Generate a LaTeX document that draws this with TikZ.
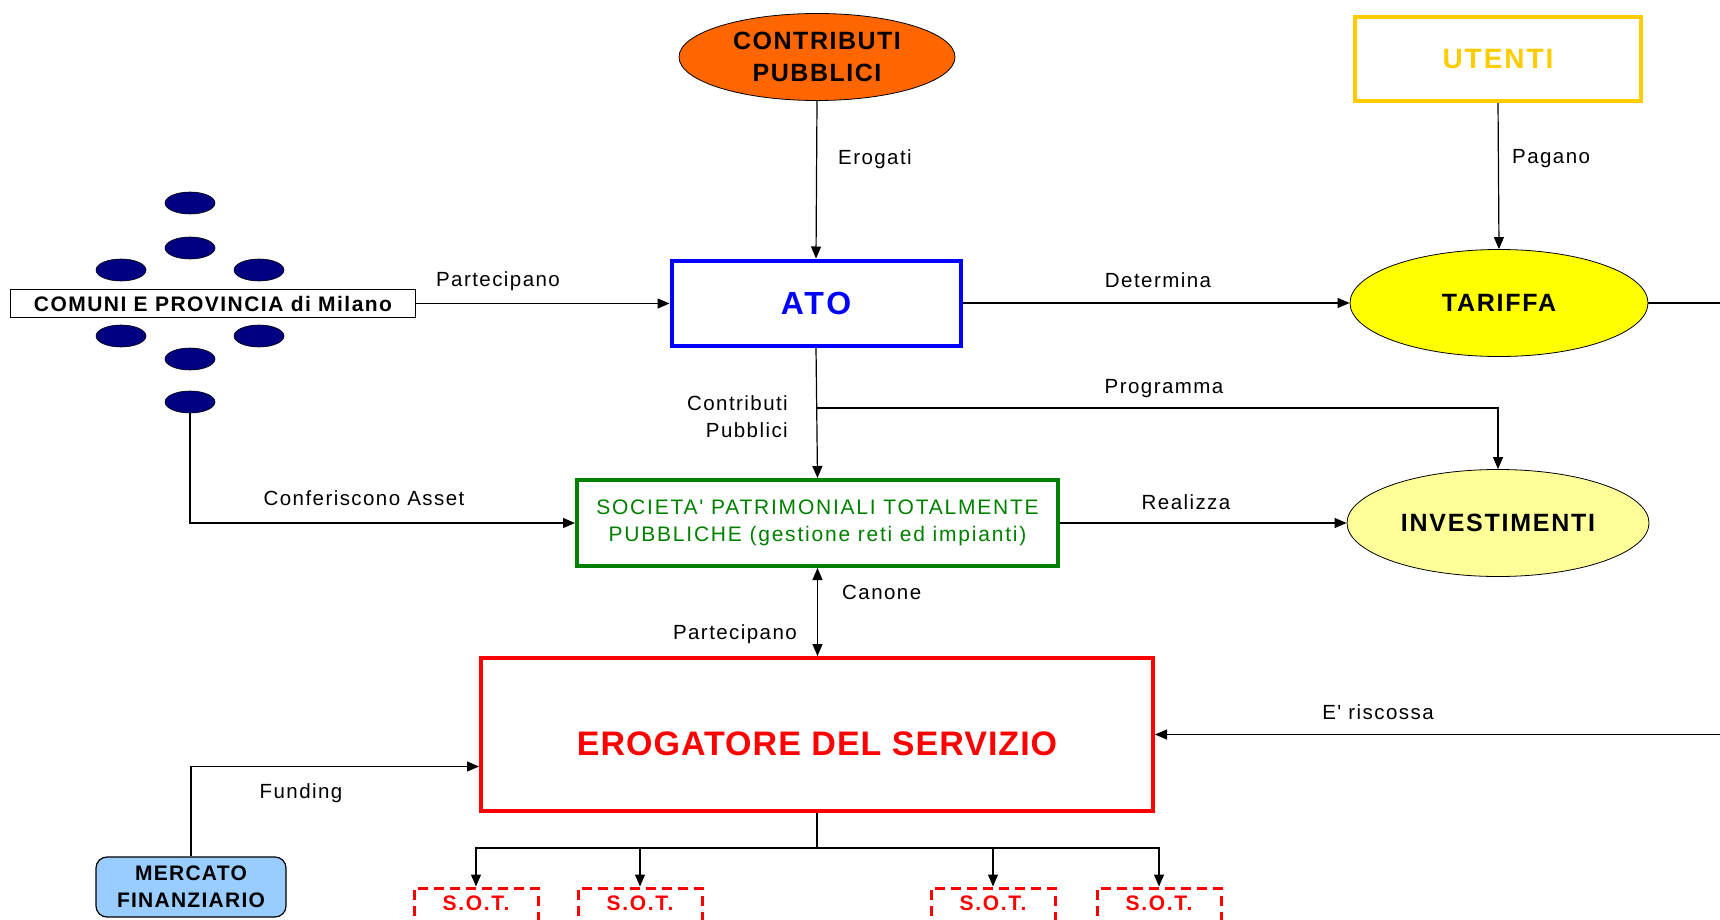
\documentclass[tikz,border=0pt]{standalone}
\usepackage{fontspec}
\setmainfont{Liberation Sans}[Ligatures=TeXOff]
\newfontfamily\lblfont{Liberation Sans}[Ligatures=TeXOff]
\newcommand\lsp[1]{\addfontfeature{LetterSpace=#1}}
\usetikzlibrary{arrows.meta,shapes.geometric}
\definecolor{orangeC}{HTML}{FF6600}
\definecolor{atoblue}{HTML}{0000FF}
\definecolor{goldU}{HTML}{FFCC00}
\definecolor{yelT}{HTML}{FFFF00}
\definecolor{lightyel}{HTML}{FFFF99}
\definecolor{socgreen}{HTML}{008000}
\definecolor{erogred}{HTML}{FF0000}
\definecolor{mercblue}{HTML}{99CCFF}
\definecolor{navyE}{HTML}{000080}
\begin{document}
\begin{tikzpicture}[x=1pt,y=-1pt,
  lbl/.style={font=\lblfont\lsp{7}\fontsize{20.5}{27}\selectfont, inner sep=0pt},
  conn/.style={line width=1.2pt,-{Triangle[length=12pt,width=10pt]}},
  wire/.style={line width=1.2pt},
  dot/.style={ellipse, draw=black, line width=0.6pt, fill=navyE, minimum width=50pt, minimum height=22pt, inner sep=0pt},
  bigbox/.style={rectangle, inner sep=0pt, align=center, line width=4pt},
  oval/.style={ellipse, draw=black, line width=0.8pt, inner sep=0pt, align=center},
  sotbox/.style={rectangle, draw=erogred, line width=3pt, dash pattern=on 10pt off 6pt, minimum width=124pt, minimum height=38pt, inner sep=0pt, text=erogred, font=\lblfont\lsp{8}\bfseries\fontsize{21}{25}\selectfont}
]
\useasboundingbox[fill=white] (0,0) rectangle (1720,920);

% nodes
\node[oval, fill=orangeC, minimum width=276pt, minimum height=87pt,
      font=\lblfont\lsp{6}\bfseries\fontsize{25}{32}\selectfont] (contrib) at (817,57) {CONTRIBUTI\\PUBBLICI};
\node[bigbox, draw=atoblue, text=atoblue, minimum width=289pt, minimum height=85pt,
      font=\lblfont\lsp{9}\bfseries\fontsize{32}{36}\selectfont] (ato) at (816,303) {ATO};
\node[bigbox, draw=goldU, text=goldU, minimum width=286pt, minimum height=84pt,
      font=\lblfont\lsp{7}\bfseries\fontsize{28}{32}\selectfont] (utenti) at (1498,59) {UTENTI};
\node[oval, fill=yelT, minimum width=298pt, minimum height=107pt,
      font=\lblfont\lsp{7}\bfseries\fontsize{25}{30}\selectfont] (tariffa) at (1499,303) {TARIFFA};
\node[rectangle, draw=black, fill=white, line width=1pt, minimum width=405pt, minimum height=28pt, inner sep=0pt,
      font=\lblfont\lsp{7}\bfseries\fontsize{21}{24}\selectfont] (comuni) at (213,303.5) {COMUNI E PROVINCIA di Milano};

\node[dot] (e1) at (190,203) {};
\node[dot] (e2) at (190,248) {};
\node[dot] (e3) at (121,270) {};
\node[dot] (e4) at (259,270) {};
\node[dot] (e5) at (121,336) {};
\node[dot] (e6) at (259,336) {};
\node[dot] (e7) at (190,359) {};
\node[dot] (e8) at (190,402) {};

\node[bigbox, draw=socgreen, text=socgreen, minimum width=481pt, minimum height=86pt,
      font=\lblfont\lsp{8.5}\fontsize{21}{27}\selectfont] (soc) at (817.5,523) {SOCIETA' PATRIMONIALI TOTALMENTE\\PUBBLICHE (gestione reti ed impianti)};
\node[oval, fill=lightyel, minimum width=302pt, minimum height=107pt,
      font=\lblfont\lsp{7}\bfseries\fontsize{25}{30}\selectfont] (inv) at (1498,523) {INVESTIMENTI};
\node[bigbox, draw=erogred, text=erogred, minimum width=672pt, minimum height=153pt,
      font=\lblfont\lsp{3}\bfseries\fontsize{34}{40}\selectfont] (erog) at (817,734.5) {\raisebox{-9pt}[\height][\depth]{EROGATORE DEL SERVIZIO}};
\node[rectangle, rounded corners=11pt, draw=black, fill=mercblue, line width=1.2pt, minimum width=190pt, minimum height=60pt,
      inner sep=0pt, align=center, font=\lblfont\lsp{6}\bfseries\fontsize{21}{27}\selectfont] (merc) at (191,887) {MERCATO\\FINANZIARIO};

\node[sotbox] (s1) at (476,907) {\raisebox{7pt}{S.O.T.}};
\node[sotbox] (s2) at (640,907) {\raisebox{7pt}{S.O.T.}};
\node[sotbox] (s3) at (993,907) {\raisebox{7pt}{S.O.T.}};
\node[sotbox] (s4) at (1159,907) {\raisebox{7pt}{S.O.T.}};

% helper coordinates
\coordinate (tarR) at (1725,303);
\coordinate (riscR) at (1725,734.5);
\coordinate (pj) at (816,408);
\coordinate (tj) at (817,848);

% connectors
\draw[conn] (contrib.south) -- (ato.north);
\draw[conn] (comuni.east) -- (comuni.east -| ato.west);
\draw[conn] (ato.east) -- (tariffa.west);
\draw[conn] (utenti.south) -- (tariffa.north);
\draw[wire] (tariffa.east) -- (tarR);
\draw[conn] (ato.south) -- (soc.north);
\draw[conn] (pj) -| (inv.north);
\draw[conn] (e8.south) |- (soc.west);
\draw[conn] (soc.east) -- (inv.west);
\draw[line width=1.2pt,{Triangle[length=12pt,width=10pt]}-{Triangle[length=12pt,width=10pt]}] (soc.south) -- (soc.south |- erog.north);
\draw[conn] (riscR) -- (erog.east);
\draw[conn] (merc.north) |- ([yshift=-32pt]erog.west);
\draw[wire] (erog.south) -- (tj);
\draw[conn] (tj) -| (s1.north);
\draw[conn] (tj) -| (s2.north);
\draw[conn] (tj) -| (s3.north);
\draw[conn] (tj) -| (s4.north);

% labels
\node[lbl, anchor=west] (lErogati) at (838,159) {Erogati};
\node[lbl, anchor=west] (lPagano) at (1512,159) {Pagano};
\node[lbl] (lPart1) at (498,281) {Partecipano};
\node[lbl] (lDet) at (1158,280) {Determina};
\node[lbl, anchor=east, align=right] (lContr) at (788,417) {Contributi\\Pubblici};
\node[lbl] (lProg) at (1164,389) {Programma};
\node[lbl] (lConf) at (364,498) {Conferiscono Asset};
\node[lbl] (lReal) at (1186,502) {Realizza};
\node[lbl, anchor=west] (lCan) at (842,592) {Canone};
\node[lbl, anchor=east] (lPart2) at (797,634) {Partecipano};
\node[lbl] (lRisc) at (1378,712) {E' riscossa};
\node[lbl] (lFund) at (301,793) {Funding};
\end{tikzpicture}
\end{document}
